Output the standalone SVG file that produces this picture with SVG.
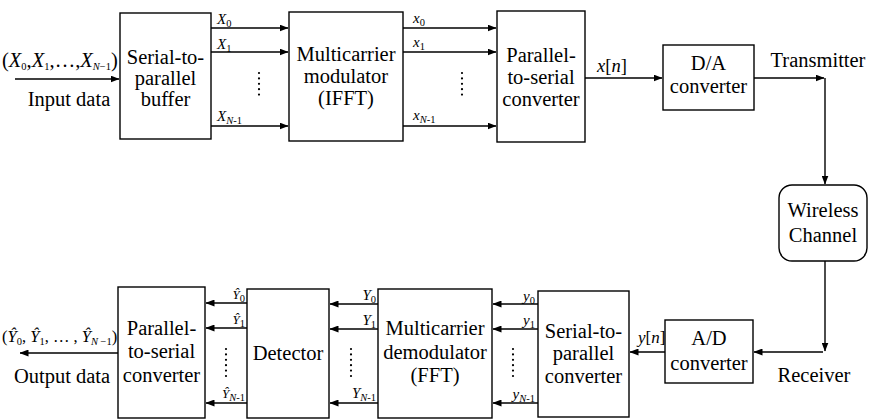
<svg xmlns="http://www.w3.org/2000/svg" width="869" height="419" viewBox="0 0 869 419" font-family="'Liberation Serif', 'DejaVu Serif', serif">
<defs>
<marker id="ah" markerWidth="9" markerHeight="7" refX="8.5" refY="3.5" orient="auto" markerUnits="userSpaceOnUse">
<path d="M0,0 L9,3.5 L0,7 z" fill="#000"/>
</marker>
<style>
.box{fill:#fff;stroke:#000;stroke-width:1.4}
.t{font-family:'Liberation Serif','DejaVu Serif','Noto Serif',serif;font-size:20.5px;fill:#000;text-anchor:middle}
.l{font-family:'Liberation Serif','DejaVu Serif','Noto Serif',serif;font-size:15px;fill:#000;font-style:italic}
.s{font-size:10.5px;font-style:normal}
.si{font-size:10.5px;font-style:italic}
.a{fill:none;stroke:#000;stroke-width:1.4;marker-end:url(#ah)}
.d{fill:none;stroke:#000;stroke-width:2.2;stroke-linecap:round;stroke-dasharray:0 5.4}
</style>
</defs>
<rect width="869" height="419" fill="#fff"/>
<g id="connectors">
<path class="a" d="M15,79 H119"/>
<path class="a" d="M211,28 H288"/>
<path class="a" d="M211,52 H288"/>
<path class="a" d="M211,126 H288"/>
<path class="d" d="M259,73 V100"/>
<path class="a" d="M403,28 H496"/>
<path class="a" d="M403,52 H496"/>
<path class="a" d="M403,126 H496"/>
<path class="d" d="M462,73 V100"/>
<path class="a" d="M585,78 H662"/>
<path class="a" d="M754,78 H824"/>
<path class="a" d="M825,78 V184"/>
<path class="a" d="M825,261 V351"/>
<path class="a" d="M823,352 H754"/>
<path class="a" d="M665,352 H630"/>
<path class="a" d="M538,304 H493"/>
<path class="a" d="M538,329 H493"/>
<path class="a" d="M538,403 H493"/>
<path class="d" d="M513,349 V377"/>
<path class="a" d="M378,304 H330"/>
<path class="a" d="M378,329 H330"/>
<path class="a" d="M378,403 H330"/>
<path class="d" d="M351,349 V377"/>
<path class="a" d="M247,303 H206"/>
<path class="a" d="M247,328 H206"/>
<path class="a" d="M247,403 H206"/>
<path class="d" d="M226,349 V377"/>
<path class="a" d="M118,353 H20"/>
</g>
<g id="labels">
<text class="t" x="2" y="67" style="text-anchor:start">(<tspan font-style="italic">X</tspan><tspan class="s" dy="3">0</tspan><tspan dy="-3">,</tspan><tspan font-style="italic">X</tspan><tspan class="s" dy="3">1</tspan><tspan dy="-3">,…,</tspan><tspan font-style="italic">X</tspan><tspan class="si" dy="3">N</tspan><tspan class="s">−1</tspan><tspan dy="-3">)</tspan></text>
<text class="t" x="69" y="106">Input data</text>
<text class="l" x="217" y="24">X<tspan class="s" dy="3">0</tspan></text>
<text class="l" x="217" y="49">X<tspan class="s" dy="3">1</tspan></text>
<text class="l" x="217" y="121">X<tspan class="si" dy="3">N</tspan><tspan class="s">-1</tspan></text>
<text class="l" x="413" y="23">x<tspan class="s" dy="3">0</tspan></text>
<text class="l" x="413" y="47">x<tspan class="s" dy="3">1</tspan></text>
<text class="l" x="413" y="120">x<tspan class="si" dy="3">N</tspan><tspan class="s">-1</tspan></text>
<text class="t" x="597" y="72" style="text-anchor:start;font-size:18.5px"><tspan font-style="italic">x</tspan>[<tspan font-style="italic">n</tspan>]</text>
<text class="t" x="818" y="67">Transmitter</text>
<text class="t" x="814" y="382">Receiver</text>
<text class="t" x="638" y="343" style="text-anchor:start;font-size:17px"><tspan font-style="italic">y</tspan>[<tspan font-style="italic">n</tspan>]</text>
<text class="l" x="535" y="301" style="text-anchor:end">y<tspan class="s" dy="3">0</tspan></text>
<text class="l" x="535" y="325" style="text-anchor:end">y<tspan class="s" dy="3">1</tspan></text>
<text class="l" x="535" y="399" style="text-anchor:end">y<tspan class="si" dy="3">N</tspan><tspan class="s">-1</tspan></text>
<text class="l" x="376" y="300" style="text-anchor:end">Y<tspan class="s" dy="3">0</tspan></text>
<text class="l" x="376" y="325" style="text-anchor:end">Y<tspan class="s" dy="3">1</tspan></text>
<text class="l" x="376" y="398" style="text-anchor:end">Y<tspan class="si" dy="3">N</tspan><tspan class="s">-1</tspan></text>
<text class="l" x="245" y="299" style="text-anchor:end;font-size:13px">Ŷ<tspan class="s" dy="3">0</tspan></text>
<text class="l" x="245" y="324" style="text-anchor:end;font-size:13px">Ŷ<tspan class="s" dy="3">1</tspan></text>
<text class="l" x="245" y="398" style="text-anchor:end;font-size:13px">Ŷ<tspan class="si" dy="3">N</tspan><tspan class="s">-1</tspan></text>
<text class="t" x="2" y="342" style="text-anchor:start;font-size:16.5px">(<tspan font-style="italic">Ŷ</tspan><tspan class="s" dy="3">0</tspan><tspan dy="-3">, </tspan><tspan font-style="italic">Ŷ</tspan><tspan class="s" dy="3">1</tspan><tspan dy="-3">, … , </tspan><tspan font-style="italic">Ŷ</tspan><tspan class="si" dy="3">N</tspan><tspan class="s"> −1</tspan><tspan dy="-3">)</tspan></text>
<text class="t" x="62" y="383">Output data</text>
</g>
<g id="sp-buffer"><rect class="box" x="120" y="13" width="91" height="126"/>
<text class="t" x="165.5" y="64">Serial-to-</text><text class="t" x="165.5" y="85">parallel</text><text class="t" x="165.5" y="106">buffer</text></g>
<g id="ifft"><rect class="box" x="289" y="12" width="114" height="129"/>
<text class="t" x="346" y="61">Multicarrier</text><text class="t" x="346" y="83">modulator</text><text class="t" x="346" y="105">(IFFT)</text></g>
<g id="ps-tx"><rect class="box" x="497" y="11" width="88" height="131"/>
<text class="t" x="541" y="62">Parallel-</text><text class="t" x="541" y="84">to-serial</text><text class="t" x="541" y="106">converter</text></g>
<g id="da"><rect class="box" x="663" y="45" width="91" height="65"/>
<text class="t" x="708.5" y="70">D/A</text><text class="t" x="708.5" y="93">converter</text></g>
<g id="channel"><rect class="box" x="779" y="185" width="88" height="76" rx="13"/>
<text class="t" x="823" y="217">Wireless</text><text class="t" x="823" y="242">Channel</text></g>
<g id="ad"><rect class="box" x="665" y="320" width="88" height="63"/>
<text class="t" x="709" y="345">A/D</text><text class="t" x="709" y="370">converter</text></g>
<g id="sp-rx"><rect class="box" x="538" y="291" width="91" height="126"/>
<text class="t" x="583.5" y="338">Serial-to-</text><text class="t" x="583.5" y="360">parallel</text><text class="t" x="583.5" y="383">converter</text></g>
<g id="fft"><rect class="box" x="378" y="289" width="114" height="129"/>
<text class="t" x="435" y="335">Multicarrier</text><text class="t" x="435" y="359">demodulator</text><text class="t" x="435" y="382">(FFT)</text></g>
<g id="detector"><rect class="box" x="247" y="289" width="82" height="129"/>
<text class="t" x="288" y="360">Detector</text></g>
<g id="ps-rx"><rect class="box" x="118" y="287" width="87" height="131"/>
<text class="t" x="161.5" y="335">Parallel-</text><text class="t" x="161.5" y="358">to-serial</text><text class="t" x="161.5" y="382">converter</text></g>
</svg>
